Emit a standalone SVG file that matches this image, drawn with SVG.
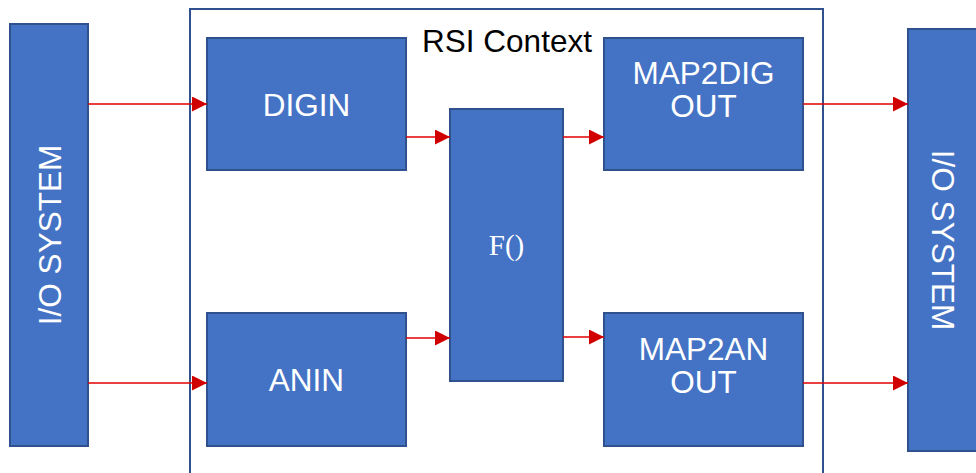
<svg xmlns="http://www.w3.org/2000/svg" width="976" height="473" viewBox="0 0 976 473">
  <style>
    .blk { fill: #4472C4; stroke: #2F528F; stroke-width: 2; }
    .lbl { fill: #FFFFFF; font-family: "Liberation Sans", Arial, sans-serif; font-size: 31.5px; text-anchor: middle; }
    .fn { fill: #FFFFFF; font-family: "Liberation Serif", "Times New Roman", serif; font-size: 29px; text-anchor: middle; }
    .ctx { fill: none; stroke: #2F528F; stroke-width: 2; }
    .ctxlbl { fill: #000000; font-family: "Liberation Sans", Arial, sans-serif; font-size: 31.5px; text-anchor: middle; }
    .wire { stroke: #E00000; stroke-width: 1.5; fill: none; marker-end: url(#head); }
  </style>
  <defs>
    <marker id="head" viewBox="0 0 10 10" refX="10" refY="5" markerUnits="userSpaceOnUse" markerWidth="15" markerHeight="15" orient="auto">
      <path d="M0,0 L10,5 L0,10 Z" fill="#D00000"/>
    </marker>
  </defs>

  <!-- RSI context frame -->
  <g id="rsi-context">
    <rect class="ctx" x="190" y="9" width="633" height="480"/>
    <text class="ctxlbl" x="507" y="52">RSI Context</text>
  </g>

  <g id="io-in">
    <rect class="blk" x="10" y="24" width="78" height="422"/>
    <text class="lbl" transform="translate(61,235) rotate(-90)">I/O SYSTEM</text>
  </g>

  <g id="digin">
    <rect class="blk" x="207" y="38" width="199" height="132"/>
    <text class="lbl" x="306.500" y="116">DIGIN</text>
  </g>

  <g id="anin">
    <rect class="blk" x="207" y="313" width="199" height="133"/>
    <text class="lbl" x="306.500" y="391">ANIN</text>
  </g>

  <g id="func">
    <rect class="blk" x="450" y="109" width="113" height="272"/>
    <text class="fn" x="506.500" y="255">F()</text>
  </g>

  <g id="map2dig">
    <rect class="blk" x="604" y="38" width="199" height="132"/>
    <text class="lbl" x="703.500" y="84">MAP2DIG</text>
    <text class="lbl" x="703.500" y="117">OUT</text>
  </g>

  <g id="map2an">
    <rect class="blk" x="604" y="313" width="199" height="133"/>
    <text class="lbl" x="703.500" y="360">MAP2AN</text>
    <text class="lbl" x="703.500" y="393">OUT</text>
  </g>

  <g id="io-out">
    <rect class="blk" x="908" y="29" width="80" height="422"/>
    <text class="lbl" transform="translate(932,240) rotate(90)">I/O SYSTEM</text>
  </g>

  <!-- connectors -->
  <g id="connectors">
    <line class="wire" x1="88" y1="104" x2="207" y2="104"/>
    <line class="wire" x1="88" y1="383" x2="207" y2="383"/>
    <line class="wire" x1="406" y1="137" x2="450" y2="137"/>
    <line class="wire" x1="406" y1="338" x2="450" y2="338"/>
    <line class="wire" x1="563" y1="137" x2="604" y2="137"/>
    <line class="wire" x1="563" y1="337" x2="604" y2="337"/>
    <line class="wire" x1="803" y1="104" x2="908" y2="104"/>
    <line class="wire" x1="803" y1="383" x2="908" y2="383"/>
  </g>
</svg>
